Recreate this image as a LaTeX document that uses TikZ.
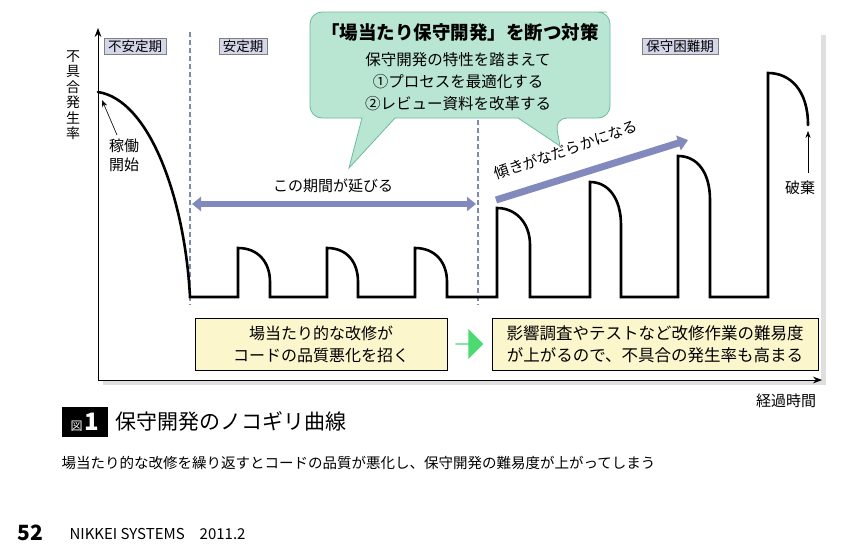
\documentclass[tikz,border=0pt]{standalone}
\usepackage{fontspec}
\setmainfont{Noto Sans CJK JP}
\usetikzlibrary{arrows.meta,shapes.arrows}
\definecolor{lav}{HTML}{8289BC}
\definecolor{lavbox}{HTML}{D4D6EA}
\definecolor{mint}{HTML}{B9E5D3}
\definecolor{mintb}{HTML}{6DBB9E}
\definecolor{ylw}{HTML}{FBF6CC}
\definecolor{dsh}{HTML}{7F8AAE}
\tikzset{x=1pt,y=-1pt,
 curve/.style={line width=2.6pt,line cap=round},
 period/.style={draw=gray,fill=lavbox,inner xsep=4pt,inner ysep=1.5pt,font=\fontsize{13.5}{15}\selectfont},
 lbl/.style={font=\fontsize{15}{18}\selectfont},
 ybox/.style={draw=black,fill=ylw,align=center,font=\fontsize{16}{22}\selectfont,minimum height=52pt},
 dline/.style={dsh,line width=1.6pt,dash pattern=on 5pt off 3pt}}
\begin{document}
\begin{tikzpicture}
\useasboundingbox (0,0) rectangle (845,547);
\fill[gray!25] (103,35) rectangle (826,385);
\fill[white] (98,30) rectangle (821,380);
\draw[-{Stealth[length=9pt]},line width=0.8pt] (98,380) -- (98,28) coordinate (ytop);
\draw[-{Stealth[length=9pt]},line width=0.8pt] (98,380) -- (822,380) coordinate (xend);
\node[font=\fontsize{14}{15.5}\selectfont,align=center,inner sep=0] (ylab) at (73,95) {不\\具\\合\\発\\生\\率};
\node[period] (p1) at (135,46) {不安定期};
\node[period] (p2) at (243,46) {安定期};
\node[period] (p3) at (680,46) {保守困難期};
\draw[dline] (190,32) -- (190,305);
\draw[dline] (478,32) -- (478,305);
% curve
\draw[curve] (98,92) .. controls (150,100) and (185,200) .. (190,297) -- (238,297) -- (238,248) .. controls (258,248) and (270,262) .. (270,282) -- (270,297)
 -- (327,297) -- (327,248) .. controls (347,248) and (358,262) .. (358,282) -- (358,297)
 -- (415,297) -- (415,248) .. controls (435,248) and (447,262) .. (447,282) -- (447,297)
 -- (497,297) -- (497,208) .. controls (515,208) and (530,222) .. (530,245) -- (530,297)
 -- (590,297) -- (590,182) .. controls (608,182) and (621,198) .. (621,225) -- (621,297)
 -- (678,297) -- (678,156) .. controls (697,156) and (710,172) .. (710,200) -- (710,297)
 -- (768,297) -- (768,73) .. controls (790,73) and (808,90) .. (808,125);
\node[lbl,align=center,font=\fontsize{15}{19}\selectfont] (start) at (124,155) {稼働\\開始};
\coordinate (peak) at (102,100);
\draw[-{Stealth[length=7pt]},line width=0.6pt] (117,135) -- (peak);
\node[lbl] (haiki) at (800,188) {破棄};
\coordinate (end) at (808,131);
\draw[-{Stealth[length=7pt]},line width=0.6pt] (808,173) -- (end);
% period arrow
\coordinate (a1) at (192,204); \coordinate (a2) at (476,204);
\draw[lav,line width=6pt,{Triangle[length=9pt,width=14pt]}-{Triangle[length=9pt,width=14pt]}] (a1) -- (a2);
\node[lbl] (ext) at (333,186) {この期間が延びる};
\coordinate (s1) at (496,200); \coordinate (s2) at (688,140);
\draw[lav,line width=7pt,-{Triangle[length=10pt,width=15pt]}] (s1) -- (s2);
\node[lbl,rotate=19] (slope) at (566,150) {傾きがなだらかになる};
% callout
\draw[mintb,fill=mint,line width=0.8pt,rounded corners=12pt]
 (325,12) -- (595,12) -- (610,12) -- (610,118) -- (555,118) [sharp corners] -- (560,146) -- (518,118) -- (395,118) -- (349,168) -- (362,118) [rounded corners=12pt] -- (310,118) -- (310,12) -- (325,12);
\node[font=\bfseries\fontsize{18.5}{22}\selectfont] (c0) at (460,32) {「場当たり保守開発」を断つ対策};
\node[lbl,font=\fontsize{15.5}{18}\selectfont] (c1) at (458,60) {保守開発の特性を踏まえて};
\node[lbl,font=\fontsize{15.5}{18}\selectfont] (c2) at (458,82) {①プロセスを最適化する};
\node[lbl,font=\fontsize{15.5}{18}\selectfont] (c3) at (458,104) {②レビュー資料を改革する};
% bottom boxes
\node[ybox,minimum width=252pt] (b1) at (321,344) {場当たり的な改修が\\コードの品質悪化を招く};
\node[ybox,minimum width=326pt,font=\fontsize{16.5}{22}\selectfont] (b2) at (655,344) {影響調査やテストなど改修作業の難易度\\が上がるので、不具合の発生率も高まる};
\node[single arrow,fill=green!60!teal!70,draw=none,minimum height=28pt,single arrow head extend=4pt,minimum width=30pt,inner sep=0] (ga) at (469,344) {};
\node[lbl] (xlab) at (786,401) {経過時間};
% caption
\node[fill=black,text=white,minimum width=46pt,minimum height=30pt,inner sep=0] (fig) at (85,422) {\fontsize{12}{12}\selectfont 図\,\fontsize{24}{24}\bfseries 1};
\node[anchor=west,font=\fontsize{21}{24}\selectfont] (title) at (112,421) {保守開発のノコギリ曲線};
\node[anchor=west,font=\fontsize{14.5}{17}\selectfont] (sub) at (58,463) {場当たり的な改修を繰り返すとコードの品質が悪化し、保守開発の難易度が上がってしまう};
\node[anchor=west,font=\bfseries\fontsize{21}{22}\selectfont] (pg) at (14,533) {52};
\node[anchor=west,font=\fontsize{15}{17}\selectfont] (mag) at (66,534) {NIKKEI SYSTEMS\quad 2011.2};
\end{tikzpicture}
\end{document}
